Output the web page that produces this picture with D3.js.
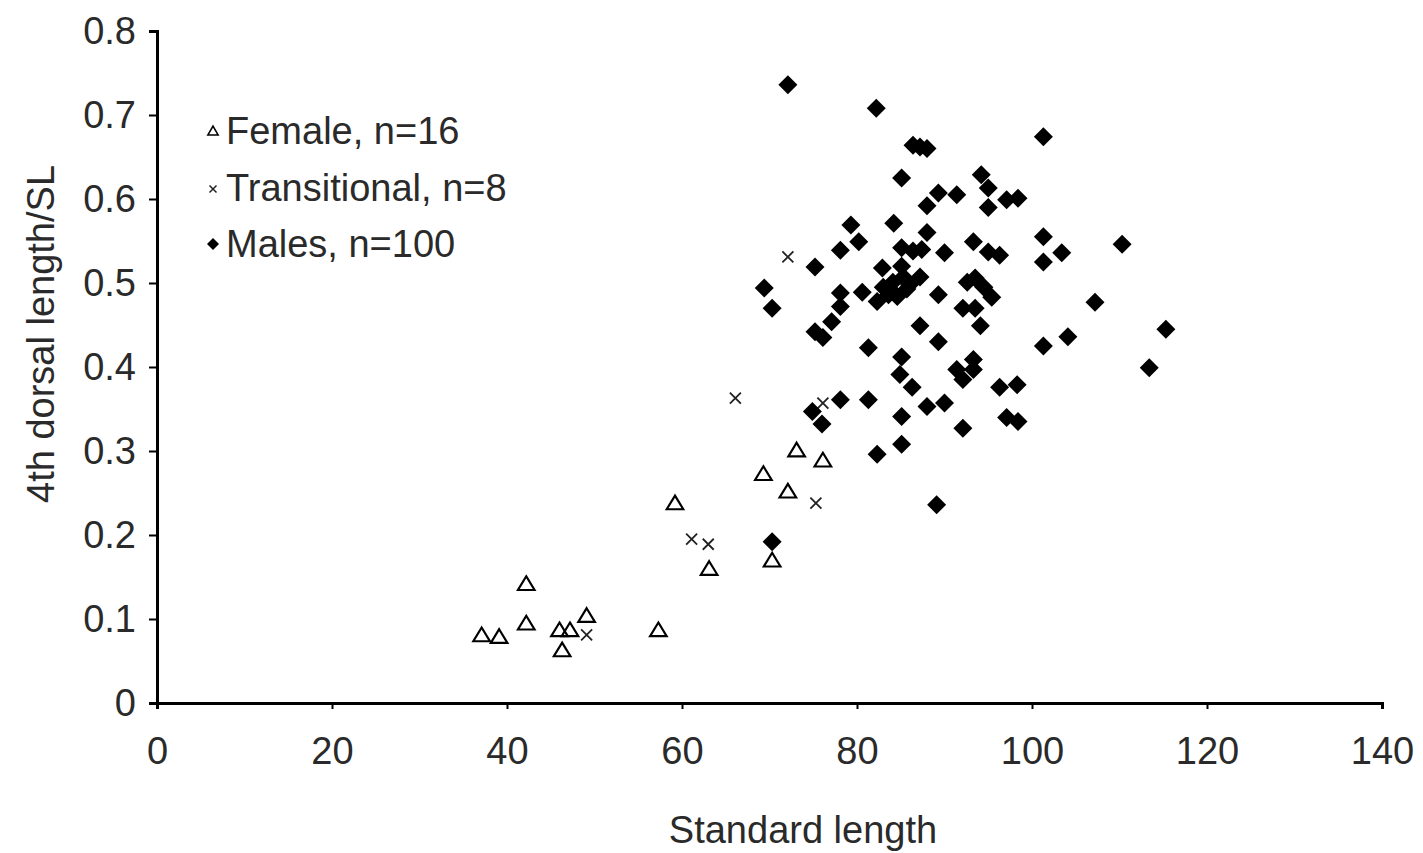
<!DOCTYPE html>
<html><head><meta charset="utf-8">
<script src="https://cdn.jsdelivr.net/npm/d3@7"></script>
<style>
html,body{margin:0;padding:0;background:#fff;}
text{font-family:"Liberation Sans",Arial,sans-serif;fill:#2a2a2a;}
</style></head>
<body>
<svg id="chart" width="1423" height="853"></svg>
<script>
// ----- data -----
const xTicks = [0,20,40,60,80,100,120,140];
const yTicks = [0,0.1,0.2,0.3,0.4,0.5,0.6,0.7,0.8];
const legendLabels = ["Female, n=16","Transitional, n=8","Males, n=100"];

const femaleX = [59.2,73.1,76.1,69.3,72.1,63.1,70.3,42.2,42.2,37.1,39.1,46.0,47.2,46.3,49.1,57.3];
const femaleY = [0.236,0.299,0.287,0.271,0.250,0.158,0.168,0.140,0.093,0.079,0.077,0.085,0.085,0.061,0.102,0.085];

const transX = [66.1,76.1,75.3,61.1,63.0,49.1,72.1];
const transY = [0.363,0.357,0.238,0.195,0.189,0.081,0.531];

const maleX = [72.1,82.2,86.4,87.2,88.0,85.1,94.2,95.0,89.3,91.4,88.0,95.0,79.3,84.2,80.2,88.0,93.3,78.1,85.1,86.4,
  87.4,90.0,95.0,101.3,97.1,98.4,101.3,103.4,101.3,110.3,96.3,107.2,115.3,101.3,104.1,113.4,96.3,98.3,97.1,98.4,
  95.4,75.2,69.4,70.3,78.1,80.6,78.1,82.3,82.9,85.1,87.2,83.0,84.1,85.3,85.7,84.6,89.3,92.6,93.5,94.5,
  92.1,93.5,94.1,87.2,89.3,77.1,75.2,76.1,81.3,85.1,84.9,86.3,91.4,92.1,93.3,93.3,78.1,81.3,74.9,76.0,
  85.1,88.0,90.0,92.1,85.1,82.3,89.1,70.3,84.0,86.0,83.6];
const maleY = [0.736,0.708,0.664,0.662,0.660,0.625,0.629,0.613,0.607,0.605,0.592,0.590,0.569,0.571,0.549,0.560,0.549,0.539,0.542,0.538,
  0.540,0.536,0.537,0.674,0.599,0.601,0.555,0.536,0.525,0.546,0.533,0.477,0.445,0.425,0.436,0.399,0.376,0.379,0.340,0.335,
  0.483,0.519,0.494,0.470,0.488,0.489,0.472,0.478,0.518,0.520,0.507,0.495,0.501,0.507,0.493,0.484,0.486,0.501,0.506,0.495,
  0.470,0.470,0.449,0.449,0.430,0.454,0.442,0.435,0.423,0.412,0.391,0.376,0.397,0.385,0.397,0.409,0.361,0.361,0.347,0.332,
  0.341,0.353,0.357,0.327,0.308,0.296,0.236,0.192,0.490,0.498,0.486];

// ----- layout -----
const svg = d3.select("#chart");
const x = d3.scaleLinear().domain([0,140]).range([157,1382]);
const y = d3.scaleLinear().domain([0,0.8]).range([703,31]);
const FS = 38;

// axes
const xAxis = svg.append("g").attr("transform",`translate(0,${y(0)})`)
  .call(d3.axisBottom(x).tickValues(xTicks).tickSize(6).tickPadding(28).tickFormat(d3.format("d")));
const yAxis = svg.append("g").attr("transform",`translate(${x(0)},0)`)
  .call(d3.axisLeft(y).tickValues(yTicks).tickSize(8).tickPadding(13).tickFormat(d => d===0 ? "0" : d3.format(".1f")(d)));
[xAxis,yAxis].forEach(g=>{
  g.select(".domain").attr("stroke","#000").attr("stroke-width",3);
  g.selectAll(".tick line").attr("stroke","#000").attr("stroke-width",2);
  g.selectAll(".tick text").attr("font-size",FS).attr("font-family","Liberation Sans, Arial, sans-serif").attr("fill","#2a2a2a");
});
xAxis.selectAll(".tick text").attr("dy","0.72em");

// axis titles
svg.append("text").attr("x",803).attr("y",843).attr("text-anchor","middle").attr("font-size",FS).text("Standard length");
svg.append("text").attr("transform","translate(54,334) rotate(-90)").attr("text-anchor","middle").attr("font-size",FS).text("4th dorsal length/SL");

// markers
const tri = d3.symbol().type(d3.symbolTriangle).size(120);
const dia = (s)=>`M0,${-s}L${s},0L0,${s}L${-s},0Z`;

const gF = svg.append("g");
femaleX.forEach((v,i)=>{
  gF.append("path").attr("d",tri()).attr("transform",`translate(${x(v)},${y(femaleY[i])}) scale(1,0.95)`)
    .attr("fill","none").attr("stroke","#000").attr("stroke-width",2.2);
});
const gT = svg.append("g");
transX.forEach((v,i)=>{
  const cx=x(v), cy=y(transY[i]), s=5.5;
  gT.append("path").attr("d",`M${cx-s},${cy-s}L${cx+s},${cy+s}M${cx-s},${cy+s}L${cx+s},${cy-s}`)
    .attr("stroke","#222").attr("stroke-width",1.8).attr("fill","none");
});
const gM = svg.append("g");
maleX.forEach((v,i)=>{
  gM.append("path").attr("d",dia(9.5)).attr("transform",`translate(${x(v)},${y(maleY[i])})`).attr("fill","#000");
});

// legend
const lg = svg.append("g");
const rows = [130,187,243];
lg.append("path").attr("d",d3.symbol().type(d3.symbolTriangle).size(45)()).attr("transform",`translate(213,${rows[0]+2})`)
  .attr("fill","none").attr("stroke","#000").attr("stroke-width",1.6);
lg.append("path").attr("d","M-3.5,-3.5L3.5,3.5M-3.5,3.5L3.5,-3.5").attr("transform",`translate(213,${rows[1]+2})`)
  .attr("stroke","#222").attr("stroke-width",1.5);
lg.append("path").attr("d",dia(6)).attr("transform",`translate(213,${rows[2]+1})`).attr("fill","#000");
legendLabels.forEach((t,i)=>{
  lg.append("text").attr("x",226).attr("y",rows[i]).attr("dy","0.36em").attr("font-size",FS).text(t);
});
</script>
</body></html>
